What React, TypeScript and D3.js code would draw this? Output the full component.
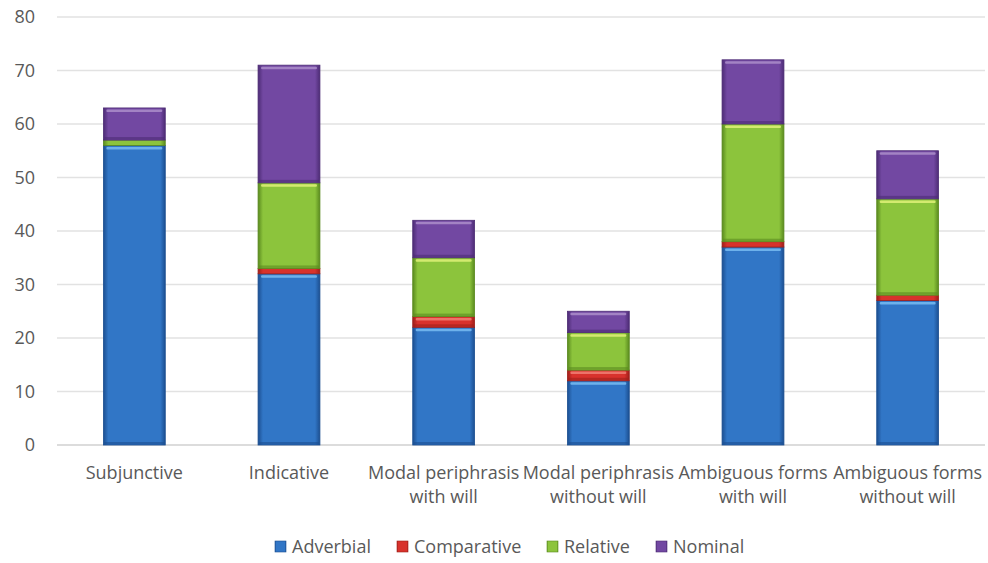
import React from "react";
import * as d3 from "d3";

const categories = [
  ["Subjunctive"],
  ["Indicative"],
  ["Modal periphrasis", "with will"],
  ["Modal periphrasis", "without will"],
  ["Ambiguous forms", "with will"],
  ["Ambiguous forms", "without will"],
];
const seriesNames = ["Adverbial", "Comparative", "Relative", "Nominal"];
const adverbial = [56, 32, 22, 12, 37, 27];
const comparative = [0, 1, 2, 2, 1, 1];
const relative = [1, 16, 11, 7, 22, 18];
const nominal = [6, 22, 7, 4, 12, 9];
const yTicks = [0, 10, 20, 30, 40, 50, 60, 70, 80];

const colors = ["#3176c6", "#d8322c", "#8cc43c", "#7248a2"];
const lightColors = ["#74b8ee", "#f07a70", "#daee74", "#a88ac8"];
const darkColors = ["#1c4f91", "#9e1f1a", "#5a8a1f", "#4d2c75"];

const W = 988, H = 563;
const left = 57, right = 985, top = 17, bottom = 445;

export default function App() {
  const keys = categories.map((c) => c.join(" "));
  const data = keys.map((k, i) => ({
    key: k,
    Adverbial: adverbial[i],
    Comparative: comparative[i],
    Relative: relative[i],
    Nominal: nominal[i],
  }));
  const stack = d3.stack<any>().keys(seriesNames)(data);
  const x = d3.scaleBand().domain(keys).range([left, right]).padding(0);
  const y = d3.scaleLinear().domain([0, 80]).range([bottom, top]);
  const bw = x.bandwidth() * 0.4;
  const font = "'Open Sans', sans-serif";
  const fs = 18;

  return (
    <svg width={W} height={H} style={{ display: "block", position: "absolute", left: 0, top: 0, background: "#fff" }}>
      <defs>
        {seriesNames.map((s, i) => (
          <linearGradient key={s} id={`g${i}`} x1="0" x2="1" y1="0" y2="0">
            <stop offset="0" stopColor={darkColors[i]} />
            <stop offset="0.08" stopColor={colors[i]} />
            <stop offset="0.5" stopColor={colors[i]} />
            <stop offset="0.92" stopColor={colors[i]} />
            <stop offset="1" stopColor={darkColors[i]} />
          </linearGradient>
        ))}
      </defs>
      {yTicks.map((t) => (
        <g key={t}>
          <line x1={left} x2={right} y1={y(t)} y2={y(t)} stroke={t === 0 ? "#d0d0d0" : "#e2e2e2"} strokeWidth={1.3} />
          <text x={35} y={y(t)} dy="0.35em" textAnchor="end" fill="#595959" fontSize={fs} fontFamily={font}>
            {t}
          </text>
        </g>
      ))}
      {stack.map((layer, si) =>
        layer.map((d, ci) => {
          const y0 = y(d[0]);
          const y1 = y(d[1]);
          const h = y0 - y1;
          if (h <= 0) return null;
          const bx = (x(keys[ci]) as number) + (x.bandwidth() - bw) / 2;
          return (
            <g key={`${si}-${ci}`}>
              <rect x={bx} y={y1} width={bw} height={h} fill={`url(#g${si})`} stroke={darkColors[si]} strokeWidth={0.8} />
              {h > 6 && (
                <rect x={bx + 3} y={y1 + 1.5} width={bw - 6} height={2.5} fill={lightColors[si]} opacity={0.9} rx={1} />
              )}
              {h > 6 && (
                <rect x={bx + 1} y={y0 - 3} width={bw - 2} height={2.5} fill={darkColors[si]} opacity={0.6} />
              )}
            </g>
          );
        })
      )}
      {categories.map((lines, i) => {
        const cx = (x(keys[i]) as number) + x.bandwidth() / 2;
        return (
          <text key={i} x={cx} y={479} textAnchor="middle" fill="#595959" fontSize={fs} fontFamily={font}>
            {lines.map((l, j) => (
              <tspan key={j} x={cx} dy={j === 0 ? 0 : 24}>
                {l}
              </tspan>
            ))}
          </text>
        );
      })}
      {(() => {
        const legendX = [275, 397, 547, 656];
        return seriesNames.map((s, i) => (
          <g key={s}>
            <rect x={legendX[i]} y={541} width={11} height={11} fill={`url(#g${i})`} stroke={darkColors[i]} strokeWidth={0.6} />
            <text x={legendX[i] + 17} y={547} dy="0.35em" fill="#595959" fontSize={fs} fontFamily={font}>
              {s}
            </text>
          </g>
        ));
      })()}
    </svg>
  );
}
